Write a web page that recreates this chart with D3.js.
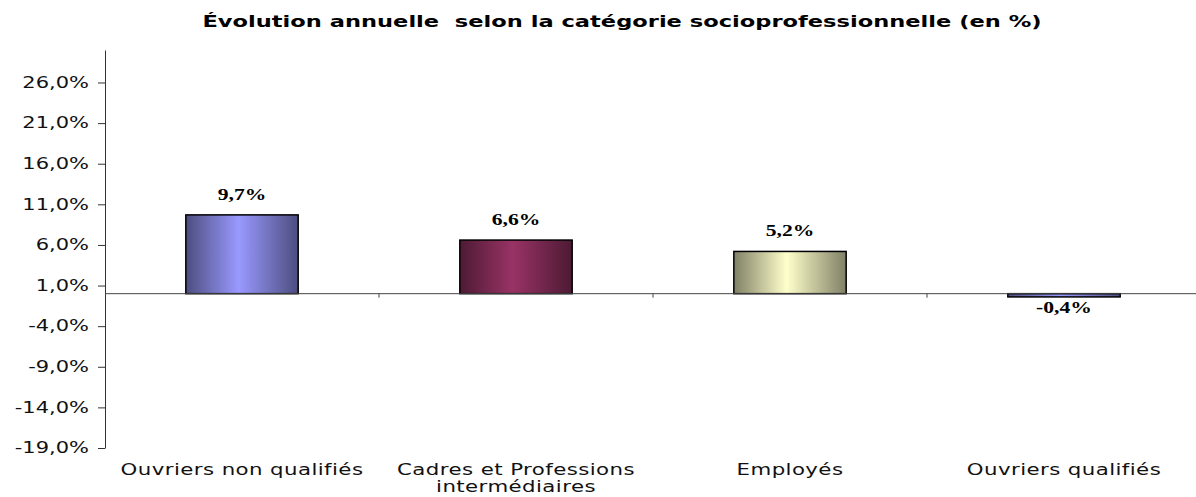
<!DOCTYPE html>
<html>
<head>
<meta charset="utf-8">
<script src="https://cdn.jsdelivr.net/npm/d3@7"></script>
<style>
	body { margin: 0; background: #fff; }
	svg { display: block; }
</style>
</head>
<body>
<div id="chart"></div>
<script>
// Data
const categories = ["Ouvriers non qualifiés", "Cadres et Professions\nintermédiaires", "Employés", "Ouvriers qualifiés"];
const values = [9.7, 6.6, 5.2, -0.4];
const yTicks = [-19, -14, -9, -4, 1, 6, 11, 16, 21, 26];
const yDomain = [-19, 30];
const barColors = ["#9999ff", "#993366", "#ffffcc", "#9999ff"];
const title = "Évolution annuelle  selon la catégorie socioprofessionnelle (en %)";

const width = 1196, height = 497;
const margin = [50, 49, 105, -5]; // top, bottom, left, right
const sx = 1.4; // glyphs are stretched horizontally in the original

const fmt = (v) => d3.format(".1f")(v).replace(".", ",").replace("−", "-") + "%";

const svg = d3.select("#chart").append("svg")
	.attr("width", width).attr("height", height);

const x = d3.scaleBand(d3.range(categories.length), [margin[2], width - margin[3]])
	.paddingInner(0.59).paddingOuter(0.295);
const xOuter = d3.scaleBand(d3.range(categories.length), [margin[2], width - margin[3]]);
const y = d3.scaleLinear(yDomain, [height - margin[1], margin[0]]);

// gradients, dark - light - dark
const defs = svg.append("defs");
barColors.forEach((c, i) => {
	let dark = d3.interpolateRgb(c, "#000")(0.5);
	let g = defs.append("linearGradient").attr("id", "grad" + i)
		.attr("x1", 0).attr("x2", 1).attr("y1", 0).attr("y2", 0);
	g.append("stop").attr("offset", 0).attr("stop-color", dark);
	g.append("stop").attr("offset", 0.47).attr("stop-color", c);
	g.append("stop").attr("offset", 1).attr("stop-color", dark);
});

// Title
svg.append("text")
	.attr("transform", `translate(622, 27) scale(1.41,1)`)
	.attr("text-anchor", "middle")
	.style("white-space", "pre")
	.style("font-family", "DejaVu Sans").style("font-weight", "bold").style("font-size", "16px")
	.text(title);

// Y axis
const axisY = svg.append("g")
	.attr("transform", `translate(${margin[2]},0)`)
	.call(d3.axisLeft(y).tickValues(yTicks).tickSize(7).tickSizeOuter(0).tickFormat(fmt));
axisY.select(".domain").attr("stroke", "#333");
axisY.selectAll(".tick line").attr("stroke", "#333");
axisY.selectAll(".tick text")
	.attr("x", -16 / sx).attr("transform", `scale(${sx},1)`)
	.style("font-family", "DejaVu Sans").style("font-size", "15px").attr("fill", "#111");

// Bars
svg.append("g").selectAll("rect")
	.data(values)
	.join("rect")
	.attr("x", (d, i) => x(i))
	.attr("width", x.bandwidth())
	.attr("y", (d) => y(Math.max(0, d)))
	.attr("height", (d) => Math.abs(y(d) - y(0)))
	.attr("fill", (d, i) => `url(#grad${i})`)
	.attr("stroke", "#000").attr("stroke-width", 1.5);

// X axis at zero
const axisX = svg.append("g")
	.attr("transform", `translate(0,${y(0)})`);
axisX.append("line")
	.attr("x1", margin[2]).attr("x2", width - margin[3])
	.attr("stroke", "#444");
axisX.selectAll("line.tick")
	.data(d3.range(1, categories.length))
	.join("line").classed("tick", true)
	.attr("x1", (i) => xOuter(i)).attr("x2", (i) => xOuter(i))
	.attr("y1", 0).attr("y2", 4)
	.attr("stroke", "#444");

// Value labels
svg.append("g").selectAll("text")
	.data(values)
	.join("text")
	.attr("transform", (d, i) => `translate(${x(i) + x.bandwidth() / 2},${d >= 0 ? y(d) - 15 : y(d) + 16}) scale(1.35,1)`)
	.attr("text-anchor", "middle")
	.style("font-family", "Liberation Serif").style("font-weight", "bold").style("font-size", "16px")
	.text(fmt);

// Category labels
const catLabels = svg.append("g").selectAll("text")
	.data(categories)
	.join("text")
	.attr("text-anchor", "middle")
	.attr("transform", (d, i) => `translate(${xOuter(i) + xOuter.bandwidth() / 2},${y(yDomain[0]) + 27}) scale(1.42,1)`)
	.style("font-family", "DejaVu Sans").style("font-size", "15px").style("letter-spacing", "0.3px")
	.attr("fill", "#111");
catLabels.selectAll("tspan")
	.data((d) => d.split("\n"))
	.join("tspan")
	.attr("x", 0)
	.attr("dy", (d, i) => i ? 17 : 0)
	.text((d) => d);
</script>
</body>
</html>
